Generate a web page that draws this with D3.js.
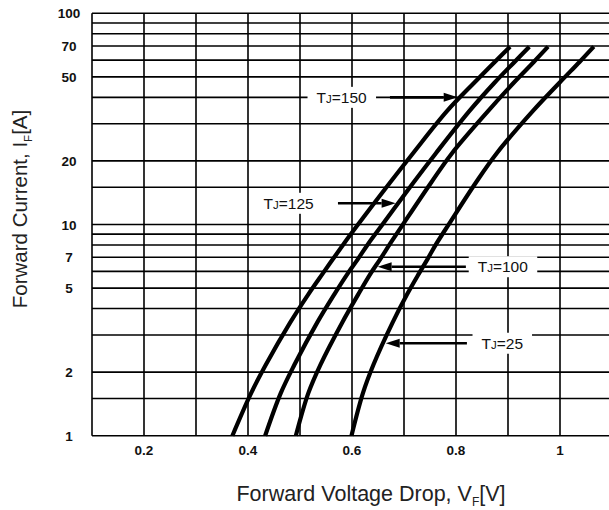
<!DOCTYPE html>
<html>
<head>
<meta charset="utf-8">
<script src="https://cdn.jsdelivr.net/npm/d3@7"></script>
<style>
  body { margin: 0; background: #fff; }
  svg { display: block; font-family: "Liberation Sans", Arial, sans-serif; }
</style>
</head>
<body>
<div class="chart"></div>
<script>
// axis ticks and grid
const voltTicks = [0.2, 0.4, 0.6, 0.8, 1];
const voltGrid = [0.1, 0.2, 0.3, 0.4, 0.5, 0.6, 0.7, 0.8, 0.9, 1.0, 1.1];
const currentLabels = [1, 2, 5, 7, 10, 20, 50, 70, 100];
const currentGrid = [1, 1.5, 2, 3, 4, 5, 6, 7, 8, 9, 10, 15, 20, 30, 40, 50, 60, 70, 80, 90, 100];

// forward current (A) where the curves were read, and forward voltage (V) per junction temp
const currentSteps = [1, 1.59, 2.16, 3.43, 4.67, 5.87, 6.84, 8.09, 10.1, 15.9, 21.7, 34.5, 46.9, 59.0, 69.5];
const vf150 = [0.370, 0.406, 0.434, 0.481, 0.516, 0.544, 0.563, 0.584, 0.613, 0.674, 0.717, 0.783, 0.835, 0.875, 0.904];
const vf125 = [0.433, 0.463, 0.489, 0.533, 0.566, 0.592, 0.611, 0.631, 0.660, 0.719, 0.761, 0.826, 0.874, 0.913, 0.941];
const vf100 = [0.492, 0.516, 0.539, 0.581, 0.612, 0.636, 0.654, 0.673, 0.699, 0.753, 0.792, 0.862, 0.911, 0.950, 0.977];
const vf25  = [0.599, 0.621, 0.641, 0.678, 0.706, 0.729, 0.745, 0.762, 0.787, 0.839, 0.878, 0.948, 0.999, 1.038, 1.065];

// annotations: label, current where the arrow sits, text centre voltage, arrow tail voltage
const annNames   = ["150", "125", "100", "25"];
const annCurrent = [40.0, 12.6, 6.31, 2.74];
const annTextV   = [0.580, 0.478, 0.890, 0.889];
const annTailV   = [0.673, 0.573, 0.819, 0.821];

const series = [vf150, vf125, vf100, vf25];

const W = 609, H = 510;
const margin = {top: 13.3, left: 92, bottom: 74.3};

const svg = d3.select(".chart").append("svg")
  .attr("width", W).attr("height", H);

const x = d3.scaleLinear().domain([0.1, 1.1]).range([margin.left, 612]);
const y = d3.scaleLog().domain([1, 100]).range([H - margin.bottom, margin.top]);

// grid
const grid = svg.append("g").attr("stroke", "#000").attr("stroke-width", 1.6);
grid.selectAll(".h").data(currentGrid).join("line")
  .attr("x1", x(0.1)).attr("x2", W)
  .attr("y1", d => y(d)).attr("y2", d => y(d));
grid.selectAll(".v").data(voltGrid).join("line")
  .attr("x1", d => x(d)).attr("x2", d => x(d))
  .attr("y1", y(1)).attr("y2", y(100));

// tick labels
svg.append("g").selectAll("text").data(currentLabels).join("text")
  .attr("x", 69).attr("y", d => y(d) + 5)
  .attr("text-anchor", "middle")
  .attr("font-size", 13.5).attr("font-weight", "bold").attr("fill", "#111")
  .text(d => d);
svg.append("g").selectAll("text").data(voltTicks).join("text")
  .attr("x", d => x(d)).attr("y", y(1) + 19)
  .attr("text-anchor", "middle")
  .attr("font-size", 13.5).attr("font-weight", "bold").attr("fill", "#111")
  .text(d => d);

// axis titles
const xt = svg.append("text").attr("x", 371).attr("y", 501)
  .attr("text-anchor", "middle").attr("font-size", 21.5).attr("fill", "#222");
xt.append("tspan").text("Forward Voltage Drop, V");
xt.append("tspan").attr("font-size", 12).attr("dy", 5).text("F");
xt.append("tspan").attr("dy", -5).text("[V]");

const yt = svg.append("text").attr("transform", "translate(27,209) rotate(-90)")
  .attr("text-anchor", "middle").attr("font-size", 20.5).attr("fill", "#222");
yt.append("tspan").text("Forward Current, I");
yt.append("tspan").attr("font-size", 11.5).attr("dy", 5).text("F");
yt.append("tspan").attr("dy", -5).text("[A]");

// voltage on a curve at a given current (log interpolation between read points)
function vAt(vals, amps) {
  for (let i = 1; i < currentSteps.length; i++) {
    if (amps <= currentSteps[i]) {
      const t = Math.log(amps / currentSteps[i - 1]) / Math.log(currentSteps[i] / currentSteps[i - 1]);
      return vals[i - 1] + t * (vals[i] - vals[i - 1]);
    }
  }
  return vals[vals.length - 1];
}

// annotation labels on white boxes that cut the grid
const ann = svg.append("g");
const labels = ann.selectAll("g").data(annNames).join("g");
const txt = labels.append("text")
  .attr("x", (d, i) => x(annTextV[i]))
  .attr("y", (d, i) => y(annCurrent[i]) + 5.5)
  .attr("text-anchor", "middle").attr("font-size", 15.5).attr("fill", "#111");
txt.append("tspan").text("T");
txt.append("tspan").attr("font-size", 11.5).text("J");
txt.append("tspan").text(d => "=" + d);
txt.each(function() {
  const b = this.getBBox();
  d3.select(this.parentNode).insert("rect", "text")
    .attr("x", b.x - 9).attr("y", b.y - 2)
    .attr("width", b.width + 18).attr("height", b.height + 4)
    .attr("fill", "#fff");
});

// curves
const line = d3.line()
  .x(d => x(d[0])).y(d => y(d[1]))
  .curve(d3.curveCatmullRom.alpha(0.5));
svg.append("g").selectAll("path").data(series).join("path")
  .attr("d", vals => line(vals.map((v, i) => [v, currentSteps[i]])))
  .attr("fill", "none").attr("stroke", "#000").attr("stroke-width", 4.2);

// arrows
const arrows = svg.append("g");
annNames.forEach((n, i) => {
  const yy = y(annCurrent[i]);
  const vc = vAt(series[i], annCurrent[i]);
  const dir = annTailV[i] < vc ? 1 : -1;
  const tip = x(vc) - dir * 2.5;
  const tail = x(annTailV[i]);
  const headLen = 14, headW = 4.5;
  arrows.append("line")
    .attr("x1", tail).attr("x2", tip - dir * headLen)
    .attr("y1", yy).attr("y2", yy)
    .attr("stroke", "#000").attr("stroke-width", 2.6);
  arrows.append("path")
    .attr("d", `M${tip},${yy}L${tip - dir * headLen},${yy - headW}L${tip - dir * headLen},${yy + headW}Z`)
    .attr("fill", "#000");
});
</script>
</body>
</html>
